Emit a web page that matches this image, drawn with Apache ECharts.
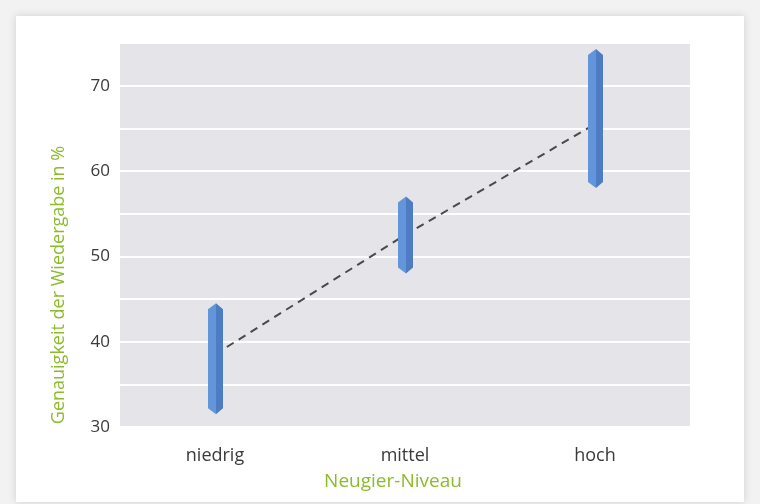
<!DOCTYPE html>
<html>
<head>
<meta charset="utf-8" />
<title>Neugier-Niveau</title>
<script src="https://cdn.jsdelivr.net/npm/echarts@6/dist/echarts.min.js"></script>
<style>
  html, body { margin: 0; padding: 0; background: #f2f2f2; }
  #main { width: 760px; height: 504px; }
</style>
</head>
<body>
<div id="main"></div>
<script type="text/javascript">
    // Werte
    var categories = ['niedrig', 'mittel', 'hoch'];
    var lowValues = [31.5, 48, 58];
    var highValues = [44.5, 57, 74.3];
    var meanValues = [38.5, 52.5, 65.5];
    var yTicks = [30, 40, 50, 60, 70];

    var rangeData = categories.map(function (c, i) {
        return [i, lowValues[i], highValues[i]];
    });

    var myChart = echarts.init(document.getElementById('main'));

    // senkrechter Balken mit Spitzen oben und unten
    function renderRange(params, api) {
        var top = api.coord([api.value(0), api.value(2)]);
        var bot = api.coord([api.value(0), api.value(1)]);
        var cx = top[0] + 1;
        var wl = 8, wr = 7, tip = 6;
        return {
            type: 'group',
            children: [{
                type: 'polygon',
                shape: { points: [[cx - wl, top[1] + tip], [cx, top[1]], [cx, bot[1]], [cx - wl, bot[1] - tip]] },
                style: { fill: '#6295da' }
            }, {
                type: 'polygon',
                shape: { points: [[cx, top[1]], [cx + wr, top[1] + tip], [cx + wr, bot[1] - tip], [cx, bot[1]]] },
                style: { fill: '#4d7cc2' }
            }]
        };
    }

    var option = {
        backgroundColor: '#f2f2f2',
        animation: false,
        textStyle: { fontFamily: 'Open Sans' },
        graphic: [{
            type: 'rect',
            z: -10,
            shape: { x: 16, y: 16, width: 728, height: 486 },
            style: { fill: '#ffffff', shadowBlur: 8, shadowColor: 'rgba(0,0,0,0.15)' }
        }],
        grid: {
            left: 120,
            right: 70,
            top: 43,
            bottom: 77,
            show: true,
            backgroundColor: '#e5e5e9',
            borderWidth: 0
        },
        xAxis: {
            type: 'category',
            data: categories,
            name: 'Neugier-Niveau',
            nameLocation: 'middle',
            nameGap: 45,
            nameTextStyle: { color: '#8dbb2c', fontSize: 19, padding: [0, 24, 0, 0] },
            axisLine: { show: false },
            axisTick: { show: false },
            axisLabel: { color: '#3a3a3a', fontSize: 18, margin: 20 }
        },
        yAxis: {
            type: 'value',
            min: 30,
            max: 75,
            interval: 5,
            name: 'Genauigkeit der Wiedergabe in %',
            nameLocation: 'middle',
            nameRotate: 90,
            nameGap: 52,
            nameTextStyle: { color: '#8dbb2c', fontSize: 18, padding: [0, 100, 0, 0] },
            axisLine: { show: false },
            axisTick: { show: false },
            splitLine: { lineStyle: { color: '#ffffff', width: 2 } },
            axisLabel: {
                color: '#3a3a3a',
                fontSize: 17,
                margin: 10,
                formatter: function (v) {
                    return yTicks.indexOf(v) >= 0 ? String(v) : '';
                }
            }
        },
        series: [{
            name: 'Mittelwert',
            type: 'line',
            data: meanValues,
            symbol: 'none',
            z: 2,
            lineStyle: { color: '#4a4a4a', width: 2, type: [8, 6] }
        }, {
            name: 'Bereich',
            type: 'custom',
            data: rangeData,
            encode: { x: 0, y: [1, 2] },
            z: 3,
            renderItem: renderRange
        }]
    };
    myChart.setOption(option);
</script>
</body>
</html>
